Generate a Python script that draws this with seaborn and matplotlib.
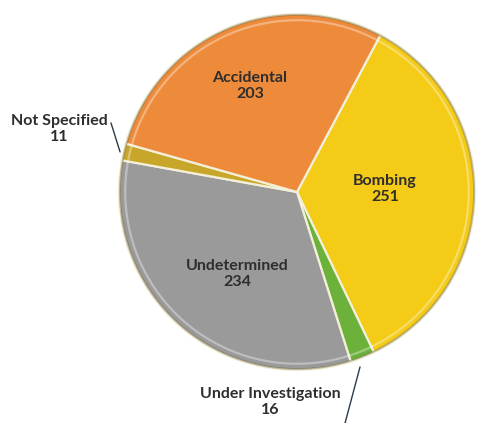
import matplotlib
matplotlib.use("Agg")
import matplotlib.pyplot as plt
from matplotlib.patches import Circle
import seaborn as sns

# Incident causes and counts (drawn clockwise from the top-right)
categories = ["Bombing", "Under Investigation", "Undetermined", "Not Specified", "Accidental"]
counts = [251, 16, 234, 11, 203]
slice_colors = ["#F4CB17", "#6BB13A", "#9A9A9A", "#C8A62A", "#EE8B3B"]

sns.set_theme(style="white")
plt.rcParams["font.family"] = ["Lato", "DejaVu Sans"]

palette = sns.color_palette(slice_colors)

fig = plt.figure(figsize=(4.79, 4.23), dpi=100)
ax = fig.add_axes([0, 0, 1, 1])

wedges, _ = ax.pie(
    counts,
    colors=palette,
    startangle=62,
    counterclock=False,
    radius=1.0,
    wedgeprops=dict(edgecolor="#F3EFD8", linewidth=1.6),
)

# soft bevel: light inner highlight and darker outer rim
ax.add_patch(Circle((0, 0), 0.965, fill=False, edgecolor="white", lw=1.6, alpha=0.35))
ax.add_patch(Circle((0, 0), 0.995, fill=False, edgecolor="#5a4a20", lw=1.4, alpha=0.35))

text_kw = dict(ha="center", va="center", fontsize=11.5, fontweight="bold", color="#2E2E2E")

# labels placed inside the large slices
inside = {
    "Accidental": (-0.264, 0.596),
    "Bombing": (0.494, 0.017),
    "Undetermined": (-0.337, -0.461),
}
for name, (x, y) in inside.items():
    ax.text(x, y, f"{name}\n{counts[categories.index(name)]}", linespacing=1.25, **text_kw)

# labels for the two thin slices, with leader lines
ax.text(-1.337, 0.354, f"Not Specified\n{counts[3]}", linespacing=1.25, **text_kw)
ax.plot([-1.045, -0.994], [0.388, 0.225], color="#2b3a4a", lw=1.0)

ax.text(-0.152, -1.180, f"Under Investigation\n{counts[1]}", linespacing=1.25, **text_kw)
ax.plot([0.354, 0.270], [-0.983, -1.298], color="#2b3a4a", lw=1.0)

ax.set_xlim(-297 / 178, (479 - 297) / 178)
ax.set_ylim(-231 / 178, 192 / 178)
ax.set_aspect("equal")
ax.axis("off")

fig.savefig("out.png", dpi=100)
